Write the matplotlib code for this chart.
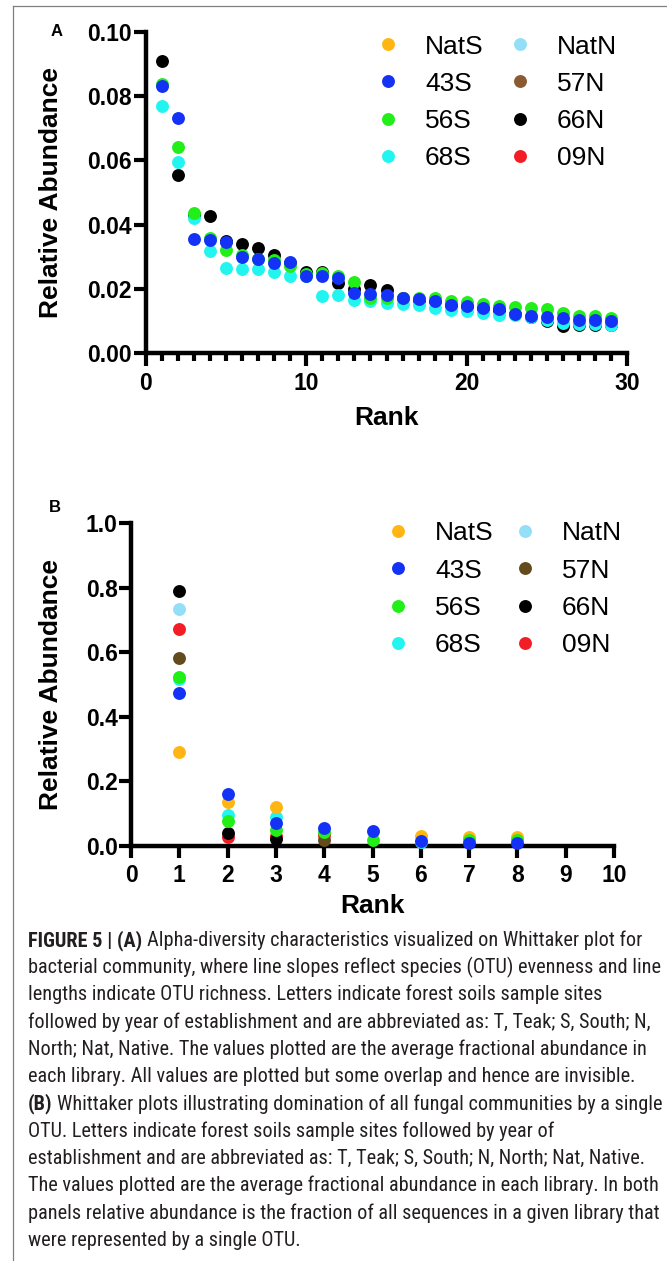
import numpy as np
import matplotlib
matplotlib.use("Agg")
import matplotlib.pyplot as plt
from matplotlib.lines import Line2D

plt.rcParams['font.family'] = ['Liberation Sans', 'DejaVu Sans']

nan = np.nan

# ---------------- data ----------------
series_names = ['NatS', '43S', '56S', '68S', 'NatN', '57N', '66N', '09N']

# Panel A (bacteria), ranks 1..29
ranks_a = list(range(1, 30))
a_43S = [0.0831, 0.0731, 0.0355, 0.0353, 0.0344, 0.0298, 0.0292, 0.0280, 0.0284, 0.0238,
         0.0238, 0.0234, 0.0185, 0.0183, 0.0180, 0.0170, 0.0167, 0.0160, 0.0149, 0.0146,
         0.0139, 0.0136, 0.0121, 0.0115, 0.0110, 0.0107, 0.0101, 0.0101, 0.0098]
a_56S = [0.0838, 0.0643, 0.0437, 0.0358, 0.0322, 0.0305, 0.0293, 0.0290, 0.0271, 0.0246,
         0.0248, 0.0240, 0.0222, 0.0170, 0.0172, 0.0172, 0.0170, 0.0170, 0.0162, 0.0157,
         0.0152, 0.0146, 0.0144, 0.0139, 0.0135, 0.0124, 0.0115, 0.0115, 0.0108]
a_68S = [0.0771, 0.0594, 0.0419, 0.0316, 0.0263, 0.0261, 0.0261, 0.0253, 0.0239, 0.0240,
         0.0178, 0.0179, 0.0164, 0.0160, 0.0154, 0.0152, 0.0149, 0.0139, 0.0133, 0.0129,
         0.0124, 0.0118, 0.0118, 0.0111, 0.0103, 0.0092, 0.0090, 0.0090, 0.0086]
a_66N = [0.0911, 0.0554, 0.0430, 0.0427, 0.0350, 0.0339, 0.0326, 0.0305, 0.0280, 0.0253,
         0.0253, 0.0219, 0.0200, 0.0211, 0.0196, 0.0172, 0.0165, 0.0160, 0.0150, 0.0145,
         0.0138, 0.0133, 0.0120, 0.0110, 0.0098, 0.0083, 0.0086, 0.0086, 0.0088]

# Panel B (fungi), ranks 1..8
ranks_b = list(range(1, 9))
b_NatS = [0.290, 0.137, 0.120, nan, nan, 0.031, 0.029, 0.027]
b_43S = [0.473, 0.160, 0.071, 0.055, 0.046, 0.017, 0.008, 0.008]
b_56S = [0.523, 0.077, 0.050, 0.044, 0.019, nan, 0.019, 0.018]
b_68S = [0.517, 0.096, 0.091, nan, nan, 0.012, nan, nan]
b_NatN = [0.734, nan, nan, nan, nan, nan, nan, nan]
b_57N = [0.582, nan, nan, 0.019, nan, nan, nan, nan]
b_66N = [0.790, 0.039, 0.022, nan, nan, nan, nan, nan]
b_09N = [0.672, 0.029, 0.031, 0.034, nan, nan, nan, nan]

xticks_a = [0, 10, 20, 30]
yticks_a = [0.00, 0.02, 0.04, 0.06, 0.08, 0.10]
xticks_b = list(range(0, 11))
yticks_b = [0.0, 0.2, 0.4, 0.6, 0.8, 1.0]

colors_a = {'NatS': '#FFB612', '43S': '#1432F5', '56S': '#22EE18', '68S': '#22F5F0',
            'NatN': '#93DFF8', '57N': '#8B5A30', '66N': '#000000', '09N': '#F21D25'}
colors_b = dict(colors_a)
colors_b['57N'] = '#644B1E'

# stacking order (bottom -> top)
z_order = {'09N': 3, '57N': 4, '66N': 5, 'NatN': 6, '68S': 7, 'NatS': 8, '56S': 9, '43S': 10}

caption = [
    ("FIGURE 5 | (A)", "Alpha-diversity characteristics visualized on Whittaker plot for"),
    ("", "bacterial community, where line slopes reflect species (OTU) evenness and line"),
    ("", "lengths indicate OTU richness. Letters indicate forest soils sample sites"),
    ("", "followed by year of establishment and are abbreviated as: T, Teak; S, South; N,"),
    ("", "North; Nat, Native. The values plotted are the average fractional abundance in"),
    ("", "each library. All values are plotted but some overlap and hence are invisible."),
    ("(B)", "Whittaker plots illustrating domination of all fungal communities by a single"),
    ("", "OTU. Letters indicate forest soils sample sites followed by year of"),
    ("", "establishment and are abbreviated as: T, Teak; S, South; N, North; Nat, Native."),
    ("", "The values plotted are the average fractional abundance in each library. In both"),
    ("", "panels relative abundance is the fraction of all sequences in a given library that"),
    ("", "were represented by a single OTU."),
]

# ---------------- figure ----------------
W, H = 667, 1261
fig = plt.figure(figsize=(W / 100, H / 100), dpi=100)


def px_rect(l, t, r, b):
    return [l / W, 1 - b / H, (r - l) / W, (b - t) / H]


ax_a = fig.add_axes(px_rect(146, 32.3, 627, 352.7))
ax_b = fig.add_axes(px_rect(131, 523.3, 614, 846))

MS = 9.3
TICK_FS = 16.5
LABEL_FS = 19
LEG_FS = 19


def style_axes(ax, xlim, ylim):
    ax.set_xlim(*xlim)
    ax.set_ylim(*ylim)
    ax.patch.set_visible(False)
    for s in ('top', 'right'):
        ax.spines[s].set_visible(False)
    for s in ('left', 'bottom'):
        ax.spines[s].set_linewidth(3.2)
        ax.spines[s].set_capstyle('projecting')


# Panel A
series_a = {'43S': a_43S, '56S': a_56S, '68S': a_68S, '66N': a_66N}
for name, vals in series_a.items():
    ax_a.plot(ranks_a, vals, ls='none', marker='o', ms=MS, mec='none',
              color=colors_a[name], clip_on=False, zorder=z_order[name])
style_axes(ax_a, (0, 30), (0, 0.10))
ax_a.set_xticks(xticks_a, labels=[str(v) for v in xticks_a], fontsize=TICK_FS, fontweight='bold')
ax_a.set_xticks(range(0, 31), minor=True)
ax_a.set_yticks(yticks_a, labels=[f"{v:.2f}" for v in yticks_a], fontsize=TICK_FS, fontweight='bold')
ax_a.tick_params(axis='x', which='major', length=9.5, width=3.0, pad=4.5)
ax_a.tick_params(axis='x', which='minor', length=5.8, width=3.0)
ax_a.tick_params(axis='y', which='major', length=8.6, width=3.0, pad=1.5)
ax_a.set_xlabel('Rank', fontsize=LABEL_FS, fontweight='bold')
ax_a.set_ylabel('Relative Abundance', fontsize=LABEL_FS, fontweight='bold')
ax_a.xaxis.set_label_coords((387 - 146) / 481, -(418 - 352.7) / 320.4)
ax_a.xaxis.label.set_va('center')
ax_a.yaxis.set_label_coords((51 - 146) / 481, 0.5)
ax_a.yaxis.label.set_va('center')

# Panel B
series_b = {'NatS': b_NatS, '43S': b_43S, '56S': b_56S, '68S': b_68S,
            'NatN': b_NatN, '57N': b_57N, '66N': b_66N, '09N': b_09N}
for name, vals in series_b.items():
    ax_b.plot(ranks_b, vals, ls='none', marker='o', ms=MS, mec='none',
              color=colors_b[name], clip_on=False, zorder=z_order[name])
style_axes(ax_b, (0, 10), (0, 1.0))
ax_b.set_xticks(xticks_b, labels=[str(v) for v in xticks_b], fontsize=TICK_FS, fontweight='bold')
ax_b.set_yticks(yticks_b, labels=[f"{v:.1f}" for v in yticks_b], fontsize=TICK_FS, fontweight='bold')
ax_b.tick_params(axis='x', which='major', length=8.6, width=3.0, pad=4.0)
ax_b.tick_params(axis='y', which='major', length=8.6, width=3.0, pad=1.0)
ax_b.set_xlabel('Rank', fontsize=LABEL_FS, fontweight='bold')
ax_b.set_ylabel('Relative Abundance', fontsize=LABEL_FS, fontweight='bold')
ax_b.xaxis.set_label_coords((372 - 131) / 483, -(906 - 846) / 322.7)
ax_b.xaxis.label.set_va('center')
ax_b.yaxis.set_label_coords((51 - 131) / 483, 0.5)
ax_b.yaxis.label.set_va('center')


def add_legend(ax, colors, left_px, top_px, colspace):
    handles = [Line2D([], [], ls='none', marker='o', ms=MS, mec='none', color=colors[n])
               for n in series_names]
    ax.legend(handles, series_names, ncol=2, loc='upper left',
              bbox_to_anchor=(left_px / W, 1 - top_px / H), bbox_transform=fig.transFigure,
              frameon=False, fontsize=LEG_FS, handlelength=1.0, handletextpad=0.9,
              columnspacing=colspace, labelspacing=0.5, borderpad=0, borderaxespad=0)


add_legend(ax_a, colors_a, 374.8, 34.5, 0.875)
add_legend(ax_b, colors_b, 384.8, 521.5, 0.69)

# panel letters
fig.text(57 / W, 1 - 32 / H, 'A', fontsize=12, fontweight='bold', ha='center', va='center')
fig.text(55 / W, 1 - 507 / H, 'B', fontsize=12, fontweight='bold', ha='center', va='center')

# frame lines
fig.add_artist(Line2D([13.5 / W, 1], [1 - 6 / H, 1 - 6 / H], color='#808080', lw=0.9))
fig.add_artist(Line2D([13.5 / W, 13.5 / W], [1 - 6 / H, 0], color='#808080', lw=0.9))

# caption
renderer = fig.canvas.get_renderer()
cap_family = ['Roboto Condensed', 'Liberation Sans Narrow', 'Liberation Sans', 'DejaVu Sans']
cap_color = '#231F20'
x0 = 28
target_w = 612
fs = 12.0
# fit first line width
probe_b = fig.text(0, 0, caption[0][0], fontsize=fs, fontweight='bold', family=cap_family)
probe_r = fig.text(0, 0, caption[0][1], fontsize=fs, family=cap_family)
sp = fig.text(0, 0, 'a a', fontsize=fs, family=cap_family)
sp2 = fig.text(0, 0, 'aa', fontsize=fs, family=cap_family)
space_w = sp.get_window_extent(renderer).width - sp2.get_window_extent(renderer).width
wtot = (probe_b.get_window_extent(renderer).width + space_w +
        probe_r.get_window_extent(renderer).width)
for t in (probe_b, probe_r, sp, sp2):
    t.remove()
fs = fs * target_w / wtot
space_w = space_w * target_w / wtot

y_first, dy = 938, 27.3
for i, (bold, rest) in enumerate(caption):
    yy = 1 - (y_first + i * dy) / H
    xx = x0 / W
    if bold:
        tb = fig.text(xx, yy, bold, fontsize=fs, fontweight='bold', family=cap_family,
                      color=cap_color, va='center_baseline')
        xx += (tb.get_window_extent(renderer).width + space_w) / W
    fig.text(xx, yy, rest, fontsize=fs, family=cap_family, color=cap_color,
             va='center_baseline')

fig.savefig('out.png', dpi=100)
